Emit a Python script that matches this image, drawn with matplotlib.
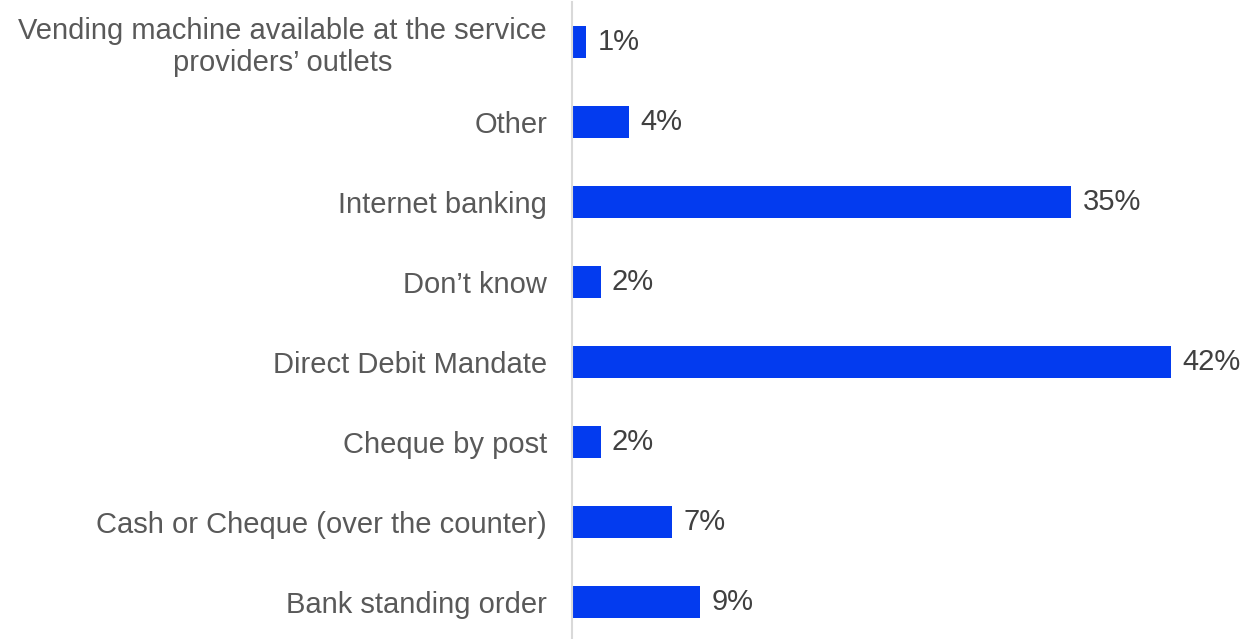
import matplotlib.pyplot as plt

plt.rcParams['font.family'] = ['Liberation Sans', 'DejaVu Sans']

# categories listed bottom to top
categories = [
    "Bank standing order",
    "Cash or Cheque (over the counter)",
    "Cheque by post",
    "Direct Debit Mandate",
    "Don\u2019t know",
    "Internet banking",
    "Other",
    "Vending machine available at the service\nproviders\u2019 outlets",
]
shares = [9, 7, 2, 42, 2, 35, 4, 1]

bar_color = "#033BEF"
label_color = "#595959"

fig = plt.figure(figsize=(12.47, 6.39), dpi=100)
ax = fig.add_axes([572 / 1247, -3 / 639, (1247 - 572) / 1247, 640 / 639])

y = range(len(categories))
ax.barh(y, shares, height=0.4, color=bar_color, zorder=2)

for yi, v in zip(y, shares):
    ax.text(v + 0.8, yi, f"{v}%", va="center", ha="left",
            fontsize=21, color="#404040")

ax.set_xlim(0, (1247 - 572) / 14.26)
ax.set_ylim(-0.5, len(categories) - 0.5)
ax.set_yticks(list(y))
ax.set_yticklabels(categories, fontsize=21, color=label_color,
                   multialignment="center")
ax.tick_params(axis="y", length=0, pad=18)
ax.set_xticks([])

for s in ["top", "right", "bottom"]:
    ax.spines[s].set_visible(False)
ax.spines["left"].set_color("#D9D9D9")
ax.spines["left"].set_linewidth(1.5)

fig.savefig("out.png", dpi=100)
